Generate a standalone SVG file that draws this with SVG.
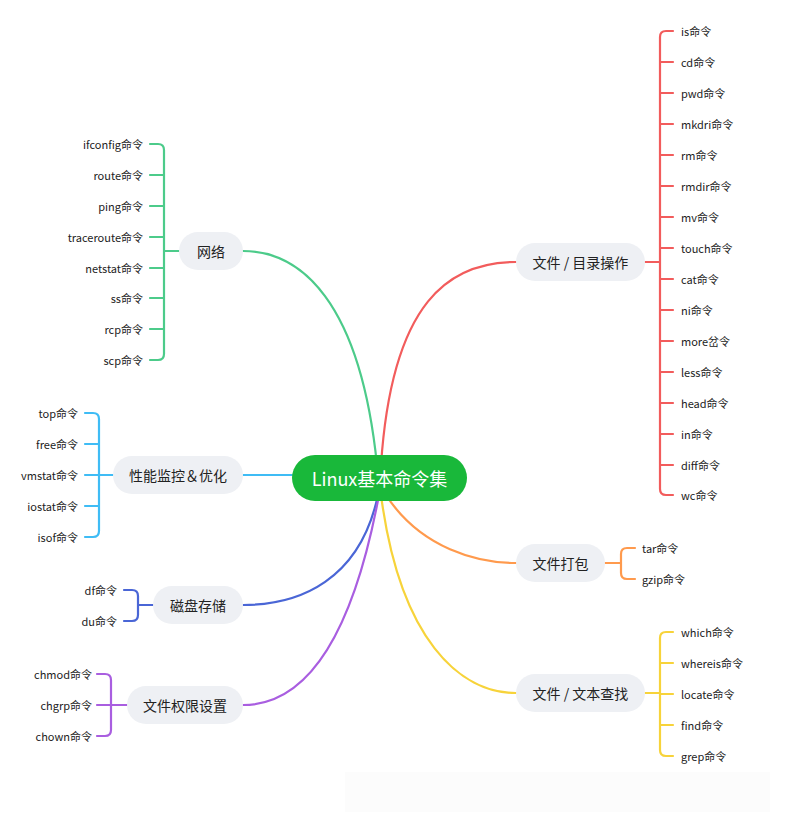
<svg xmlns="http://www.w3.org/2000/svg" width="793" height="816" viewBox="0 0 793 816">
<style>
.n{fill:#eef0f4}
.t{font-family:"Noto Sans CJK SC","Noto Sans",sans-serif;font-size:14px;fill:#222;text-anchor:middle;dominant-baseline:central}
.l{font-family:"Noto Sans CJK SC","Noto Sans",sans-serif;font-size:11px;fill:#222;dominant-baseline:central}
.r{text-anchor:end}
path{fill:none;stroke-width:2.2;stroke-linecap:round}
</style>
<rect width="793" height="816" fill="#fff"/>
<rect x="345" y="772" width="425" height="40" fill="#fcfcfc"/>
<g id="connectors">
<path stroke="#4ccb8a" d="M377,465 C360,300 300,251 243,251 M179,251 H164 M164,150 V354 M150,144 H158 Q164,144 164,150 M150,360 H158 Q164,360 164,354 M150,175 H164 M150,206 H164 M150,237 H164 M150,268 H164 M150,298 H164 M150,329 H164"/>
<path stroke="#3fbcf5" d="M292,475 H243 M113,475 H99 M99,419 V531 M85,413 H93 Q99,413 99,419 M85,537 H93 Q99,537 99,531 M85,444 H99 M85,475 H99 M85,506 H99"/>
<path stroke="#4a66d6" d="M378,495 C360,580 300,605 243,605 M153,605 H138 M138,596 V615 M124,590 H132 Q138,590 138,596 M124,621 H132 Q138,621 138,615"/>
<path stroke="#a95ee0" d="M379,495 C350,650 300,705 243,705 M127,705 H111 M111,680 V730 M97,674 H105 Q111,674 111,680 M97,736 H105 Q111,736 111,730 M97,705 H111"/>
<path stroke="#f25c5c" d="M381,465 C392,300 450,262 516,262 M645,262 H660 M660,37 V489 M673,31 H666 Q660,31 660,37 M673,495 H666 Q660,495 660,489 M660,62 H673 M660,93 H673 M660,124 H673 M660,155 H673 M660,186 H673 M660,217 H673 M660,248 H673 M660,279 H673 M660,310 H673 M660,341 H673 M660,372 H673 M660,403 H673 M660,434 H673 M660,465 H673"/>
<path stroke="#ff9a4d" d="M384,492 C420,550 480,563 516,563 M605,563 H621 M621,554 V573 M635,548 H627 Q621,548 621,554 M635,579 H627 Q621,579 621,573"/>
<path stroke="#f7d33a" d="M381,495 C400,640 460,693 516,693 M645,693 H660 M660,638 V750 M673,632 H666 Q660,632 660,638 M673,756 H666 Q660,756 660,750 M660,663 H673 M660,694 H673 M660,725 H673"/>
</g>
<g id="center"><rect x="292" y="455" width="175" height="46" rx="23" fill="#19b83a"/><text class="t" x="379.5" y="478" style="fill:#fff;font-size:18px">Linux基本命令集</text></g>
<g id="net"><rect class="n" x="179" y="232" width="64" height="38" rx="19"/><text class="t" x="211" y="251">网络</text></g>
<g id="perf"><rect class="n" x="113" y="456" width="130" height="38" rx="19"/><text class="t" x="178" y="475">性能监控＆优化</text></g>
<g id="disk"><rect class="n" x="153" y="586" width="90" height="38" rx="19"/><text class="t" x="198" y="605">磁盘存储</text></g>
<g id="perm"><rect class="n" x="127" y="686" width="116" height="38" rx="19"/><text class="t" x="185" y="705">文件权限设置</text></g>
<g id="file"><rect class="n" x="516" y="243" width="129" height="38" rx="19"/><text class="t" x="580.5" y="262">文件 / 目录操作</text></g>
<g id="pack"><rect class="n" x="516" y="544" width="89" height="38" rx="19"/><text class="t" x="560.5" y="563">文件打包</text></g>
<g id="find"><rect class="n" x="516" y="674" width="129" height="38" rx="19"/><text class="t" x="580.5" y="693">文件 / 文本查找</text></g>
<g id="leaves">
<text class="l r" x="143" y="144">ifconfig命令</text><text class="l r" x="143" y="175">route命令</text><text class="l r" x="143" y="206">ping命令</text><text class="l r" x="143" y="237">traceroute命令</text><text class="l r" x="143" y="268">netstat命令</text><text class="l r" x="143" y="298">ss命令</text><text class="l r" x="143" y="329">rcp命令</text><text class="l r" x="143" y="360">scp命令</text>
<text class="l r" x="78" y="413">top命令</text><text class="l r" x="78" y="444">free命令</text><text class="l r" x="78" y="475">vmstat命令</text><text class="l r" x="78" y="506">iostat命令</text><text class="l r" x="78" y="537">isof命令</text>
<text class="l r" x="117" y="590">df命令</text><text class="l r" x="117" y="621">du命令</text>
<text class="l r" x="92" y="674">chmod命令</text><text class="l r" x="92" y="705">chgrp命令</text><text class="l r" x="92" y="736">chown命令</text>
<text class="l" x="681" y="31">is命令</text><text class="l" x="681" y="62">cd命令</text><text class="l" x="681" y="93">pwd命令</text><text class="l" x="681" y="124">mkdri命令</text><text class="l" x="681" y="155">rm命令</text><text class="l" x="681" y="186">rmdir命令</text><text class="l" x="681" y="217">mv命令</text><text class="l" x="681" y="248">touch命令</text><text class="l" x="681" y="279">cat命令</text><text class="l" x="681" y="310">ni命令</text><text class="l" x="681" y="341">more岔令</text><text class="l" x="681" y="372">less命令</text><text class="l" x="681" y="403">head命令</text><text class="l" x="681" y="434">in命令</text><text class="l" x="681" y="465">diff命令</text><text class="l" x="681" y="495">wc命令</text>
<text class="l" x="642" y="548">tar命令</text><text class="l" x="642" y="579">gzip命令</text>
<text class="l" x="681" y="632">which命令</text><text class="l" x="681" y="663">whereis命令</text><text class="l" x="681" y="694">locate命令</text><text class="l" x="681" y="725">find命令</text><text class="l" x="681" y="756">grep命令</text>
</g>
</svg>
